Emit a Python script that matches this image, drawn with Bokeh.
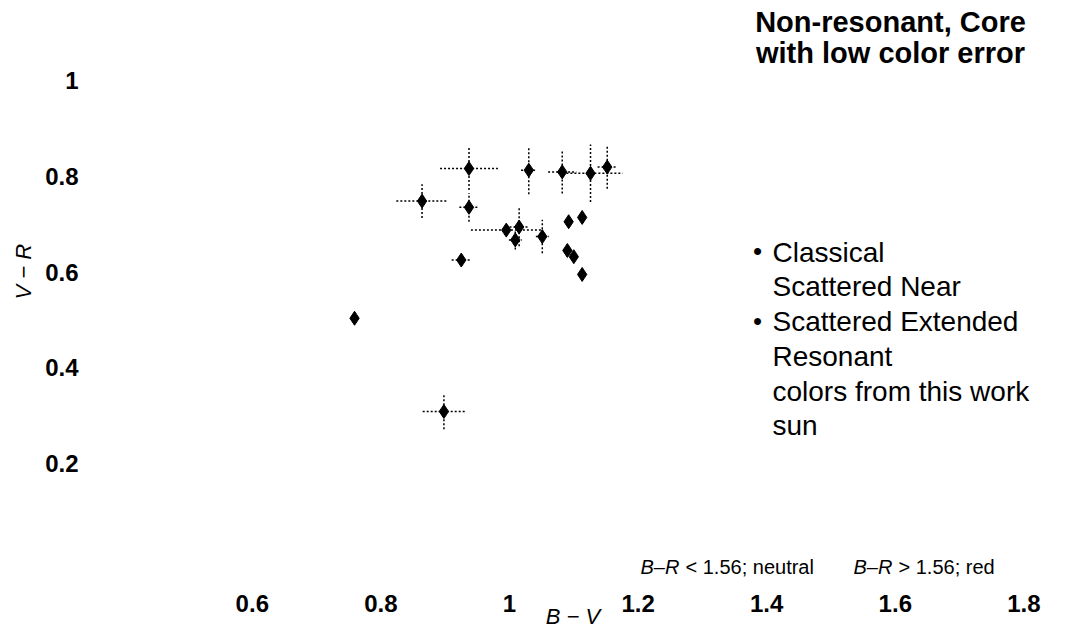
import math
from bokeh.plotting import figure
from bokeh.models import Range1d, FixedTicker, Label, ColumnDataSource, Title
from bokeh.embed import file_html
from bokeh.resources import INLINE

# ---- data ----
bv = [0.937, 1.030, 1.082, 1.126, 1.152, 0.864, 0.937, 0.995, 1.015, 1.009,
      1.051, 1.092, 1.113, 1.090, 1.100, 1.113, 0.925, 0.759, 0.898]
vr = [0.816, 0.8125, 0.809, 0.806, 0.819, 0.748, 0.735, 0.6875, 0.694, 0.667,
      0.674, 0.705, 0.714, 0.645, 0.632, 0.595, 0.625, 0.5035, 0.309]
bv_err = [0.045, 0.012, 0.022, 0.05, 0.015, 0.04, 0.015, 0.055, 0.015, 0.01,
          0.01, 0.0, 0.0, 0.0, 0.0, 0.0, 0.015, 0.0, 0.033]
vr_err = [0.045, 0.05, 0.045, 0.06, 0.045, 0.035, 0.03, 0.01, 0.04, 0.02,
          0.035, 0.0, 0.0, 0.0, 0.0, 0.0, 0.0, 0.0, 0.037]

x_ticks = [0.6, 0.8, 1.0, 1.2, 1.4, 1.6, 1.8]
y_ticks = [0.2, 0.4, 0.6, 0.8, 1.0]

title_lines = ["Non-resonant, Core", "with low color error"]
legend_lines = ["Classical", "Scattered Near", "Scattered Extended", "Resonant",
                "colors from this work", "sun"]
x_label = "B \u2212 V"
y_label = "V \u2212 R"

W, H = 1065, 631
FL, FB = 80, 42           # frame left / bottom border in px

# pixel calibration from reference: x=1 -> 509 px, 643 px/unit ; y=0.8 -> 176 px, 480 px/unit
def dx(px):
    return 1 + (px - 509) / 643.0

def dy(py):
    return 0.8 - (py - 176) / 480.0

p = figure(width=W, height=H, output_backend="svg", toolbar_location=None,
           x_range=Range1d(dx(FL), dx(W)), y_range=Range1d(dy(H - FB), dy(0)),
           min_border_left=FL, min_border_right=0, min_border_top=0,
           min_border_bottom=FB)
p.grid.visible = False
p.outline_line_color = None
p.background_fill_color = "white"
p.border_fill_color = "white"

FONT = "Liberation Sans"
for ax in (p.xaxis[0], p.yaxis[0]):
    ax.axis_line_color = None
    ax.major_tick_line_color = None
    ax.minor_tick_line_color = None
    ax.major_tick_in = 0
    ax.major_tick_out = 0
    ax.major_label_text_font = FONT
    ax.major_label_text_font_style = "bold"
    ax.major_label_text_font_size = "24px"
    ax.major_label_text_color = "black"
    ax.major_label_overrides = {1: "1", 1.0: "1"}
p.xaxis[0].ticker = FixedTicker(ticks=x_ticks)
p.yaxis[0].ticker = FixedTicker(ticks=y_ticks)
p.xaxis[0].major_label_standoff = 6
p.yaxis[0].major_label_standoff = 2

# x axis title, tucked close under the tick labels
xa = p.xaxis[0]
xa.axis_label = x_label
xa.axis_label_text_font = FONT
xa.axis_label_text_font_style = "italic"
xa.axis_label_text_font_size = "22px"
xa.axis_label_text_color = "black"
xa.axis_label_standoff = -11

# y axis title as a side title, anchored from the bottom of the frame
p.add_layout(Title(text=y_label, align="left", offset=H - FB - 300, standoff=14,
                   text_font=FONT, text_font_style="italic",
                   text_font_size="22px", text_color="black"), "left")

src = ColumnDataSource(dict(
    x=bv, y=vr,
    x0=[a - e for a, e in zip(bv, bv_err)], x1=[a + e for a, e in zip(bv, bv_err)],
    y0=[a - e for a, e in zip(vr, vr_err)], y1=[a + e for a, e in zip(vr, vr_err)],
))
p.segment(x0="x0", y0="y", x1="x1", y1="y", source=src, line_color="black",
          line_width=1.5, line_dash="2 2")
p.segment(x0="x", y0="y0", x1="x", y1="y1", source=src, line_color="black",
          line_width=1.5, line_dash="2 2")
p.scatter(x="x", y="y", source=src, marker="diamond", size=14,
          fill_color="black", line_color="black")

# title
for i, t in enumerate(title_lines):
    p.add_layout(Label(x=dx(890), y=dy(22 + 31 * i), text=t, text_font=FONT,
                       text_font_style="bold", text_font_size="29px",
                       text_align="center", text_baseline="middle",
                       text_color="black"))

# legend
for i, t in enumerate(legend_lines):
    p.add_layout(Label(x=dx(772), y=dy(252 + 34.8 * i), text=t, text_font=FONT,
                       text_font_size="28px", text_align="left",
                       text_baseline="middle", text_color="black"))
p.add_layout(Label(x=dx(757), y=dy(251), text="\u2022", text_font=FONT,
                   text_font_size="26px", text_align="center",
                   text_baseline="middle", text_color="black"))
p.add_layout(Label(x=dx(757), y=dy(321), text="\u25CF", text_font=FONT,
                   text_font_size="16px", text_align="center",
                   text_baseline="middle", text_color="black"))

# B-R notes
notes = [(640, "B\u2013R", "< 1.56; neutral"), (853, "B\u2013R", "> 1.56; red")]
for x0, a, b in notes:
    p.add_layout(Label(x=dx(x0), y=dy(567), text=a, text_font=FONT,
                       text_font_style="italic", text_font_size="20px",
                       text_baseline="middle", text_color="black"))
    p.add_layout(Label(x=dx(x0 + 45), y=dy(567), text=b, text_font=FONT,
                       text_font_size="20px", text_baseline="middle",
                       text_color="black"))

open("out.html", "w").write(file_html(p, INLINE))
